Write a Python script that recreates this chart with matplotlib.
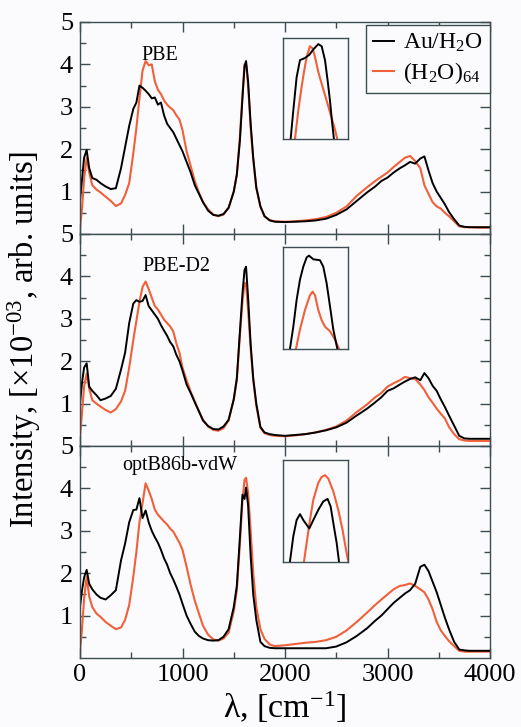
"""Three stacked IR spectra (PBE, PBE-D2, optB86b-vdW) with bending-peak insets."""
import matplotlib
matplotlib.use("Agg")
import matplotlib.pyplot as plt  # noqa: E402
import numpy as np  # noqa: E402

plt.rcParams["font.family"] = ["Liberation Serif", "DejaVu Serif"]
plt.rcParams["mathtext.fontset"] = "custom"
plt.rcParams["mathtext.rm"] = "Liberation Serif"
plt.rcParams["mathtext.it"] = "Liberation Serif:italic"
plt.rcParams["mathtext.bf"] = "Liberation Serif:bold"

# shared wavenumber grid (cm^-1)
nu = [0, 20, 40, 65, 90, 120, 160, 200, 250, 300,
      350, 400, 440, 480, 520, 550, 580, 610, 640, 670,
      700, 730, 760, 790, 820, 850, 880, 910, 940, 970,
      1000, 1040, 1080, 1120, 1160, 1200, 1250, 1300, 1350, 1400,
      1450, 1500, 1530, 1560, 1585, 1605, 1620, 1640, 1665, 1690,
      1720, 1760, 1800, 1850, 1900, 2000, 2100, 2200, 2300, 2400,
      2500, 2600, 2700, 2800, 2880, 2940, 3000, 3060, 3120, 3170,
      3220, 3270, 3320, 3360, 3400, 3440, 3480, 3520, 3560, 3600,
      3650, 3700, 3750, 3800, 3900, 4000]

pbe_au = [0.80, 1.30, 1.80, 1.98, 1.55, 1.32, 1.28, 1.20, 1.12, 1.06,
          1.08, 1.55, 2.05, 2.55, 2.95, 3.10, 3.50, 3.45, 3.38, 3.30,
          3.20, 3.22, 3.05, 3.10, 2.80, 2.60, 2.50, 2.40, 2.25, 2.10,
          1.95, 1.70, 1.45, 1.15, 0.95, 0.75, 0.55, 0.45, 0.43, 0.47,
          0.62, 1.00, 1.40, 2.20, 3.20, 3.95, 4.08, 3.60, 2.60, 1.80,
          1.10, 0.65, 0.42, 0.32, 0.29, 0.28, 0.29, 0.30, 0.32, 0.36,
          0.45, 0.58, 0.78, 0.98, 1.12, 1.25, 1.33, 1.45, 1.55, 1.62,
          1.70, 1.66, 1.78, 1.83, 1.50, 1.20, 1.00, 0.85, 0.70, 0.52,
          0.35, 0.20, 0.17, 0.16, 0.16, 0.16]
pbe_w = [0.15, 0.60, 1.30, 1.80, 1.45, 1.15, 1.05, 0.98, 0.88, 0.78,
         0.66, 0.72, 0.92, 1.20, 1.90, 2.50, 3.20, 3.85, 4.08, 3.98,
         4.00, 3.60, 3.40, 3.30, 3.15, 3.05, 2.98, 2.92, 2.80, 2.70,
         2.45, 1.95, 1.60, 1.25, 0.98, 0.75, 0.58, 0.46, 0.42, 0.46,
         0.62, 1.00, 1.40, 2.30, 3.30, 4.00, 4.02, 3.50, 2.50, 1.75,
         1.08, 0.65, 0.42, 0.33, 0.30, 0.29, 0.30, 0.32, 0.35, 0.40,
         0.50, 0.65, 0.90, 1.10, 1.25, 1.35, 1.45, 1.58, 1.70, 1.80,
         1.84, 1.72, 1.55, 1.15, 0.95, 0.75, 0.65, 0.60, 0.50, 0.42,
         0.30, 0.18, 0.16, 0.16, 0.15, 0.15]

d2_au = [1.00, 1.50, 1.85, 1.95, 1.40, 1.30, 1.20, 1.08, 1.12, 1.18,
         1.35, 1.80, 2.20, 2.90, 3.36, 3.44, 3.40, 3.42, 3.56, 3.30,
         3.20, 3.10, 3.00, 2.85, 2.72, 2.60, 2.45, 2.35, 2.15, 2.00,
         1.78, 1.45, 1.25, 1.03, 0.82, 0.60, 0.47, 0.40, 0.39, 0.46,
         0.62, 1.10, 1.60, 2.70, 3.60, 4.15, 4.23, 3.50, 2.40, 1.60,
         1.00, 0.45, 0.32, 0.28, 0.26, 0.24, 0.26, 0.28, 0.32, 0.37,
         0.44, 0.55, 0.72, 0.88, 1.03, 1.15, 1.30, 1.36, 1.45, 1.52,
         1.58, 1.62, 1.55, 1.72, 1.60, 1.42, 1.30, 1.10, 0.92, 0.72,
         0.48, 0.24, 0.18, 0.17, 0.17, 0.17]
d2_w = [0.20, 0.80, 1.40, 1.71, 1.35, 1.08, 1.00, 0.93, 0.85, 0.79,
        0.87, 1.05, 1.30, 1.85, 2.50, 2.95, 3.40, 3.75, 3.88, 3.70,
        3.50, 3.30, 3.22, 3.10, 2.98, 2.90, 2.82, 2.70, 2.42, 2.20,
        1.85, 1.55, 1.28, 1.05, 0.82, 0.62, 0.46, 0.38, 0.36, 0.42,
        0.60, 1.10, 1.55, 2.60, 3.40, 3.85, 3.82, 3.20, 2.30, 1.55,
        0.95, 0.43, 0.30, 0.26, 0.24, 0.23, 0.25, 0.28, 0.32, 0.38,
        0.46, 0.60, 0.80, 0.98, 1.15, 1.25, 1.40, 1.48, 1.55, 1.63,
        1.60, 1.58, 1.45, 1.32, 1.15, 1.02, 0.88, 0.76, 0.65, 0.45,
        0.28, 0.16, 0.13, 0.12, 0.12, 0.12]

vdw_au = [1.21, 1.60, 1.90, 2.08, 1.75, 1.62, 1.50, 1.42, 1.38, 1.48,
          1.60, 2.30, 2.70, 3.20, 3.49, 3.50, 3.77, 3.30, 3.48, 3.20,
          3.00, 2.85, 2.72, 2.55, 2.35, 2.20, 2.00, 1.85, 1.68, 1.50,
          1.28, 1.00, 0.80, 0.62, 0.52, 0.46, 0.42, 0.41, 0.42, 0.50,
          0.68, 1.20, 1.70, 2.85, 3.85, 3.75, 4.02, 3.60, 2.40, 1.50,
          0.90, 0.38, 0.28, 0.24, 0.23, 0.23, 0.23, 0.23, 0.23, 0.23,
          0.27, 0.37, 0.52, 0.70, 0.88, 1.00, 1.15, 1.30, 1.42, 1.52,
          1.60, 1.75, 2.15, 2.20, 2.05, 1.80, 1.55, 1.25, 0.95, 0.68,
          0.38, 0.20, 0.18, 0.17, 0.17, 0.17]
vdw_w = [0.15, 0.70, 1.40, 1.92, 1.45, 1.20, 1.05, 0.97, 0.85, 0.76,
         0.68, 0.72, 0.90, 1.25, 1.92, 2.50, 3.20, 3.65, 4.12, 3.95,
         3.75, 3.50, 3.38, 3.30, 3.22, 3.15, 3.05, 2.98, 2.85, 2.72,
         2.55, 2.15, 1.72, 1.35, 1.05, 0.76, 0.55, 0.44, 0.41, 0.46,
         0.60, 1.10, 1.60, 2.70, 3.70, 4.20, 4.25, 3.90, 3.00, 2.00,
         1.20, 0.68, 0.45, 0.32, 0.28, 0.30, 0.33, 0.36, 0.38, 0.42,
         0.50, 0.65, 0.85, 1.07, 1.25, 1.38, 1.50, 1.62, 1.70, 1.72,
         1.76, 1.70, 1.62, 1.55, 1.38, 1.15, 0.85, 0.65, 0.52, 0.40,
         0.28, 0.17, 0.15, 0.15, 0.15, 0.15]

# insets: close-up of the ~1600 cm^-1 bending peak
pbe_in_au_x = [1570, 1573.5, 1578.5, 1584.6, 1590.8, 1600, 1608, 1615.4,
               1624.6, 1630.8, 1637, 1641.8, 1646.2, 1649.8, 1653.5, 1656]
pbe_in_au_y = [3.10, 3.20, 3.47, 3.78, 3.94, 3.96, 3.99, 4.04,
               4.09, 4.07, 3.94, 3.75, 3.56, 3.37, 3.20, 3.10]
pbe_in_w_x = [1578, 1581.5, 1587.7, 1593.8, 1598.2, 1603.1, 1609.2, 1614.2,
              1618.5, 1624.6, 1630.8, 1640, 1649.2, 1655.4, 1659.7, 1663]
pbe_in_w_y = [3.10, 3.20, 3.47, 3.69, 3.83, 3.97, 4.07, 4.05,
              3.97, 3.83, 3.72, 3.56, 3.40, 3.29, 3.20, 3.10]

d2_in_au_x = [1569, 1572.3, 1578.5, 1584.6, 1590.8, 1596.9, 1603.1, 1607.4,
              1615.4, 1627.7, 1633.8, 1640, 1646.2, 1652.3, 1659.7, 1663]
d2_in_au_y = [3.10, 3.20, 3.44, 3.73, 3.95, 4.09, 4.19, 4.21,
              4.17, 4.16, 4.09, 3.91, 3.66, 3.41, 3.20, 3.10]
d2_in_w_x = [1580, 1583.4, 1590.8, 1600, 1609.2, 1614.2, 1618.5, 1624.6,
             1630.8, 1637, 1646.2, 1655.4, 1662.8, 1666]
d2_in_w_y = [3.10, 3.20, 3.41, 3.62, 3.78, 3.82, 3.78, 3.62,
             3.51, 3.44, 3.39, 3.30, 3.20, 3.10]

vdw_in_au_x = [1569, 1572.3, 1578.5, 1584.6, 1590.8, 1596.9, 1608, 1615.4,
               1624.6, 1633.8, 1641.8, 1647.4, 1653.5, 1658.5, 1662.8, 1665]
vdw_in_au_y = [3.10, 3.20, 3.50, 3.69, 3.76, 3.69, 3.59, 3.69,
               3.81, 3.91, 3.94, 3.85, 3.61, 3.42, 3.20, 3.10]
vdw_in_w_x = [1595, 1598.2, 1603.1, 1609.2, 1615.4, 1624.6, 1630.8, 1637,
              1643.1, 1652.3, 1661.5, 1669.5, 1676.9, 1680, 1683]
vdw_in_w_y = [3.10, 3.20, 3.42, 3.69, 3.93, 4.13, 4.20, 4.22,
              4.18, 4.03, 3.81, 3.57, 3.30, 3.20, 3.10]

panel_names = ["PBE", "PBE-D2", "optB86b-vdW"]
name_pos = [(780, 4.22), (943, 4.23), (975, 4.55)]
inset_ylims = [(3.2, 4.15), (3.2, 4.3), (3.2, 4.4)]

BLACK = "#000000"
RED = "#f0603a"
SPINE = "#3e4c54"
BG = "#fbfbfd"

W, H = 521, 727
fig = plt.figure(figsize=(W / 100, H / 100), dpi=100, facecolor=BG)

panels = [
    (pbe_au, pbe_w, pbe_in_au_x, pbe_in_au_y, pbe_in_w_x, pbe_in_w_y),
    (d2_au, d2_w, d2_in_au_x, d2_in_au_y, d2_in_w_x, d2_in_w_y),
    (vdw_au, vdw_w, vdw_in_au_x, vdw_in_au_y, vdw_in_w_x, vdw_in_w_y),
]
tops = [22, 234, 446]
inset_tops = [37.7, 247.3, 460]
ph = 212

for i, (au, w, iax, iay, iwx, iwy) in enumerate(panels):
    ax = fig.add_axes([80 / W, 1 - (tops[i] + ph) / H, 410 / W, ph / H])
    ax.set_facecolor(BG)
    ax.plot(nu, w, color=RED, lw=1.5)
    ax.plot(nu, au, color=BLACK, lw=1.4)
    ax.set_xlim(0, 4000)
    ax.set_ylim(0, 5)
    ax.set_xticks(np.arange(0, 4001, 1000))
    ax.set_xticks(np.arange(500, 4000, 1000), minor=True)
    ax.set_yticks([1, 2, 3, 4, 5])
    ax.set_yticks(np.arange(0.5, 5, 1.0), minor=True)
    ax.tick_params(which="both", direction="in", top=True, right=True,
                   color=SPINE, labelsize=19)
    ax.tick_params(which="major", length=7, width=1.0)
    ax.tick_params(which="minor", length=4, width=1.0)
    ax.tick_params(axis="y", pad=5)
    ax.tick_params(axis="x", pad=4)
    if i < 2:
        ax.tick_params(axis="x", labelbottom=False)
    for s in ax.spines.values():
        s.set_color(SPINE)
        s.set_linewidth(1.0)
    ax.text(*name_pos[i], panel_names[i], ha="center", va="center", fontsize=14.5)

    if i == 0:
        ax.plot([], [], color=BLACK, lw=1.4, label="Au/H$_2$O")
        ax.plot([], [], color=RED, lw=1.5, label="(H$_2$O)$_{64}$")
        leg = ax.legend(loc="upper right", bbox_to_anchor=(1.0, 1 - 3 / ph),
                        borderaxespad=0, fontsize=17, handlelength=0.9,
                        handletextpad=0.4, labelspacing=0.25, borderpad=0.3,
                        fancybox=False, framealpha=1, edgecolor=SPINE,
                        facecolor=BG)
        leg.get_frame().set_linewidth(1.0)

    ins = fig.add_axes([283.3 / W, 1 - (inset_tops[i] + 101.5) / H, 65 / W, 101.5 / H])
    ins.set_facecolor(BG)
    ins.plot(iwx, iwy, color=RED, lw=1.5)
    ins.plot(iax, iay, color=BLACK, lw=1.4)
    ins.set_xlim(1560, 1680)
    ins.set_ylim(*inset_ylims[i])
    ins.set_xticks([])
    ins.set_yticks([])
    for s in ins.spines.values():
        s.set_color(SPINE)
        s.set_linewidth(1.0)

fig.text(24 / W, 1 - 339 / H, "Intensity, [×10$^{\\mathrm{-03}}$, arb. units]",
         rotation=90, ha="center", va="center", fontsize=23.5)
fig.text(285 / W, 1 - 718 / H, "λ, [cm$^{\\mathrm{-1}}$]",
         ha="center", va="baseline", fontsize=24.5)

fig.savefig("out.png", dpi=100, facecolor=BG)
plt.close(fig)
